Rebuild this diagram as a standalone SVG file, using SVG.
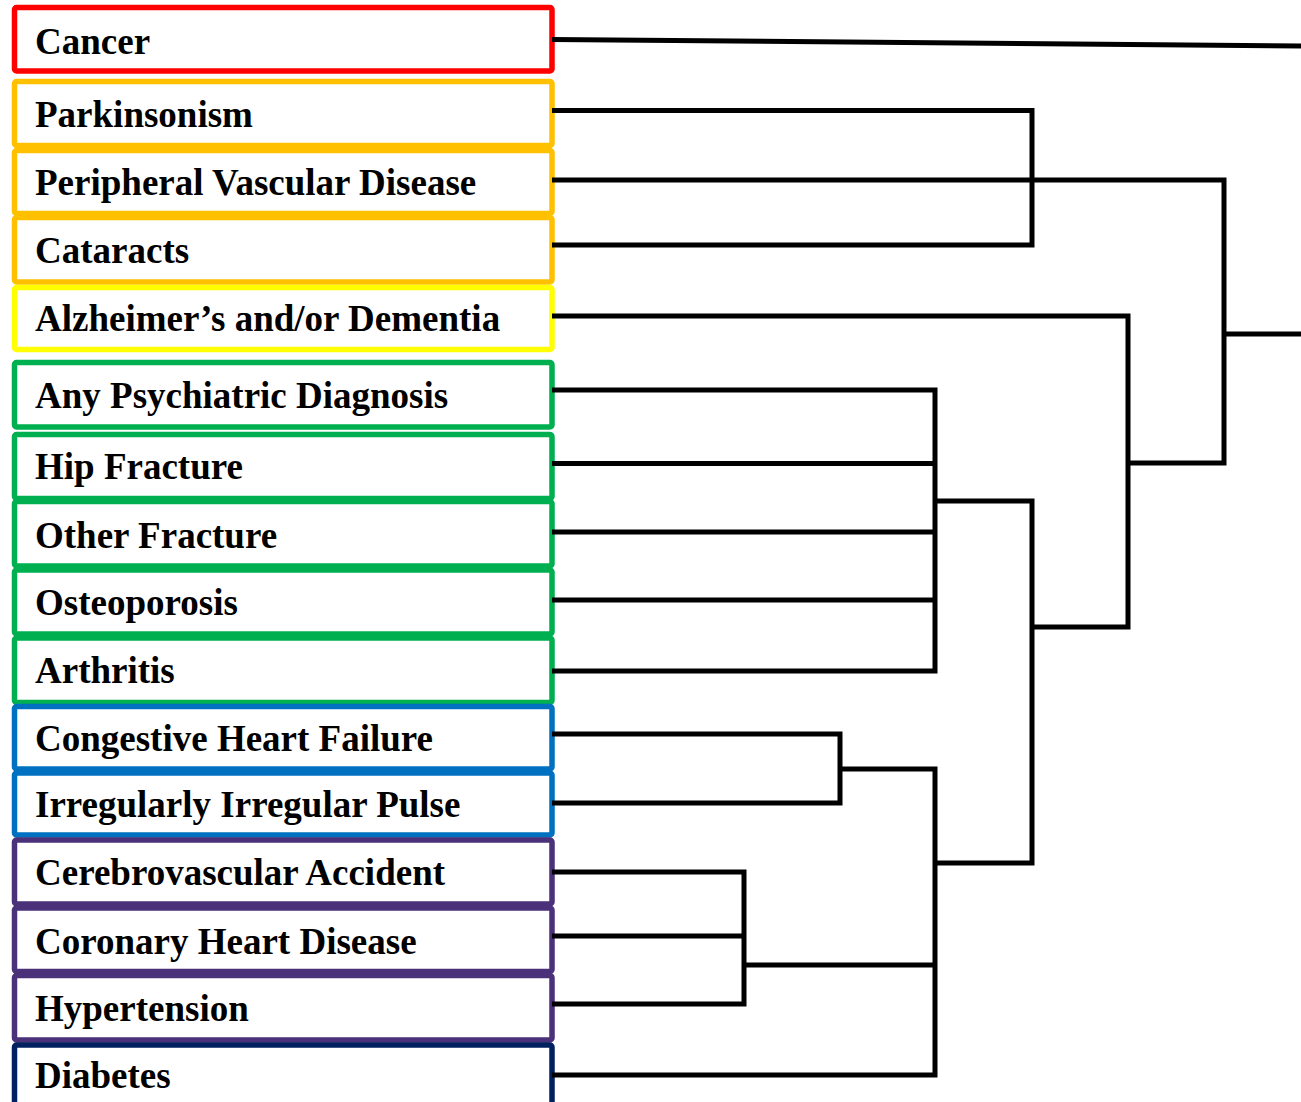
<svg xmlns="http://www.w3.org/2000/svg" width="1301" height="1102" viewBox="0 0 1301 1102">
<style>
.box{fill:#fff;stroke-width:5.5}
.lbl{font-family:"Liberation Serif","Times New Roman",serif;font-weight:bold;font-size:37px;fill:#000}
.red{stroke:#FF0000}.org{stroke:#FFC000}.yel{stroke:#FFFF00}.grn{stroke:#00B050}.blu{stroke:#0070C0}.pur{stroke:#4A3179}.nav{stroke:#002060}
.cn{fill:none;stroke:#000;stroke-width:5;stroke-linejoin:miter;stroke-linecap:butt}
</style>
<rect width="1301" height="1102" fill="#fff"/>
<g id="nodes">
<g id="n-cancer"><rect class="box red" x="14.5" y="7.5" width="537.5" height="63.5" rx="2"/><text class="lbl" x="35" y="53.5">Cancer</text></g>
<g id="n-parkinsonism"><rect class="box org" x="14.5" y="81.5" width="537.5" height="64" rx="2"/><text class="lbl" x="35" y="127.3">Parkinsonism</text></g>
<g id="n-pvd"><rect class="box org" x="14.5" y="150.5" width="537.5" height="63" rx="2"/><text class="lbl" x="35" y="194.5">Peripheral Vascular Disease</text></g>
<g id="n-cataracts"><rect class="box org" x="14.5" y="217.5" width="537.5" height="64.5" rx="2"/><text class="lbl" x="35" y="263.3">Cataracts</text></g>
<g id="n-alzheimers"><rect class="box yel" x="14.5" y="287.5" width="537.5" height="62" rx="2"/><text class="lbl" x="35" y="330.7">Alzheimer’s and/or Dementia</text></g>
<g id="n-psych"><rect class="box grn" x="14.5" y="362.5" width="537.5" height="64.5" rx="2"/><text class="lbl" x="35" y="408.3">Any Psychiatric Diagnosis</text></g>
<g id="n-hip"><rect class="box grn" x="14.5" y="434.5" width="537.5" height="64" rx="2"/><text class="lbl" x="35" y="479.3">Hip Fracture</text></g>
<g id="n-other"><rect class="box grn" x="14.5" y="501.5" width="537.5" height="64.5" rx="2"/><text class="lbl" x="35" y="548.3">Other Fracture</text></g>
<g id="n-osteo"><rect class="box grn" x="14.5" y="570" width="537.5" height="64" rx="2"/><text class="lbl" x="35" y="615">Osteoporosis</text></g>
<g id="n-arthritis"><rect class="box grn" x="14.5" y="638" width="537.5" height="64.5" rx="2"/><text class="lbl" x="35" y="682.7">Arthritis</text></g>
<g id="n-chf"><rect class="box blu" x="14.5" y="706.5" width="537.5" height="62.5" rx="2"/><text class="lbl" x="35" y="750.7">Congestive Heart Failure</text></g>
<g id="n-iip"><rect class="box blu" x="14.5" y="773" width="537.5" height="62" rx="2"/><text class="lbl" x="35" y="817.3">Irregularly Irregular Pulse</text></g>
<g id="n-cva"><rect class="box pur" x="14.5" y="840" width="537.5" height="64" rx="2"/><text class="lbl" x="35" y="885">Cerebrovascular Accident</text></g>
<g id="n-chd"><rect class="box pur" x="14.5" y="908" width="537.5" height="63.5" rx="2"/><text class="lbl" x="35" y="954">Coronary Heart Disease</text></g>
<g id="n-htn"><rect class="box pur" x="14.5" y="975.5" width="537.5" height="64.5" rx="2"/><text class="lbl" x="35" y="1020.7">Hypertension</text></g>
<g id="n-diabetes"><rect class="box nav" x="14.5" y="1045" width="537.5" height="64" rx="2"/><text class="lbl" x="35" y="1088.3">Diabetes</text></g>
</g>
<g id="connectors">
<path class="cn" d="M552,39.5 L1301,46"/>
<path class="cn" d="M552,110.5 H1032 V245 H552"/>
<path class="cn" d="M552,180 H1224 V463 H1128"/>
<path class="cn" d="M1224,334 H1301"/>
<path class="cn" d="M552,316 H1128 V627 H1032"/>
<path class="cn" d="M552,390 H935 V671 H552"/>
<path class="cn" d="M552,463.5 H935"/>
<path class="cn" d="M552,532 H935"/>
<path class="cn" d="M552,600 H935"/>
<path class="cn" d="M935,501 H1032 V863 H935"/>
<path class="cn" d="M552,734 H840 V803 H552"/>
<path class="cn" d="M840,769 H935 V1075 H552"/>
<path class="cn" d="M552,872 H744 V1004 H552"/>
<path class="cn" d="M552,936 H744"/>
<path class="cn" d="M744,965 H935"/>
</g>
</svg>
